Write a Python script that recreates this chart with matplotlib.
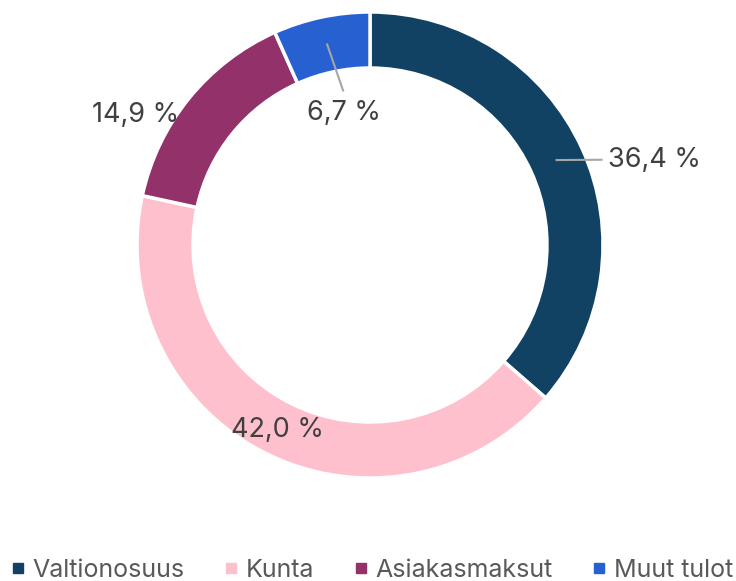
import matplotlib.pyplot as plt
import numpy as np
from matplotlib.lines import Line2D

labels = ['Valtionosuus', 'Kunta', 'Asiakasmaksut', 'Muut tulot']
shares = [36.4, 42.0, 14.9, 6.7]
colors = ['#124263', '#FFC0CD', '#93316A', '#2760D0']
value_text = ['36,4 %', '42,0 %', '14,9 %', '6,7 %']

plt.rcParams['font.family'] = ['Inter', 'DejaVu Sans']

fig = plt.figure(figsize=(7.36, 5.81), dpi=100)
ax = fig.add_axes([0, 0, 1, 1])

cx, cy, r, w = 370, 336, 233, 56
wedges, _ = ax.pie(shares, colors=colors, startangle=90, counterclock=False,
                   center=(cx, cy), radius=r, frame=True,
                   wedgeprops=dict(width=w, edgecolor='white', linewidth=2.5))
ax.set_xlim(0, 736)
ax.set_ylim(0, 581)
ax.axis('off')

# label placement: (radius of text, angle offset in deg, leader)
place = [(297, 7.8, True), (207, 0, False), (268, -10, False), (135, 1, True)]
start = 0
for s, txt, (lr, off, lead) in zip(shares, value_text, place):
    mid = start + s / 2
    start += s
    ang = np.deg2rad(90 - mid * 3.6)
    mx, my = cx + (r - w / 2) * np.cos(ang), cy + (r - w / 2) * np.sin(ang)
    ang2 = np.deg2rad(90 - mid * 3.6 - off)
    tx, ty = cx + lr * np.cos(ang2), cy + lr * np.sin(ang2)
    ax.text(tx, ty, txt, ha='center', va='center', fontsize=19.5, color='#404040')
    if lead:
        if tx > cx:
            ax.plot([mx, tx - 53], [my, ty], color='#A6A6A6', lw=1.5)
        else:
            ax.plot([mx, tx - 1], [my, ty + 22], color='#A6A6A6', lw=1.5)

handles = [Line2D([], [], marker='s', ls='', color=c, markersize=7) for c in colors]
fig.legend(handles, labels, loc='lower center', ncol=4, frameon=False,
           fontsize=18, labelcolor='#595959', handletextpad=0.3,
           handlelength=0.6, columnspacing=1.55, bbox_to_anchor=(0.505, -0.04))

fig.savefig('out.png', dpi=100)
